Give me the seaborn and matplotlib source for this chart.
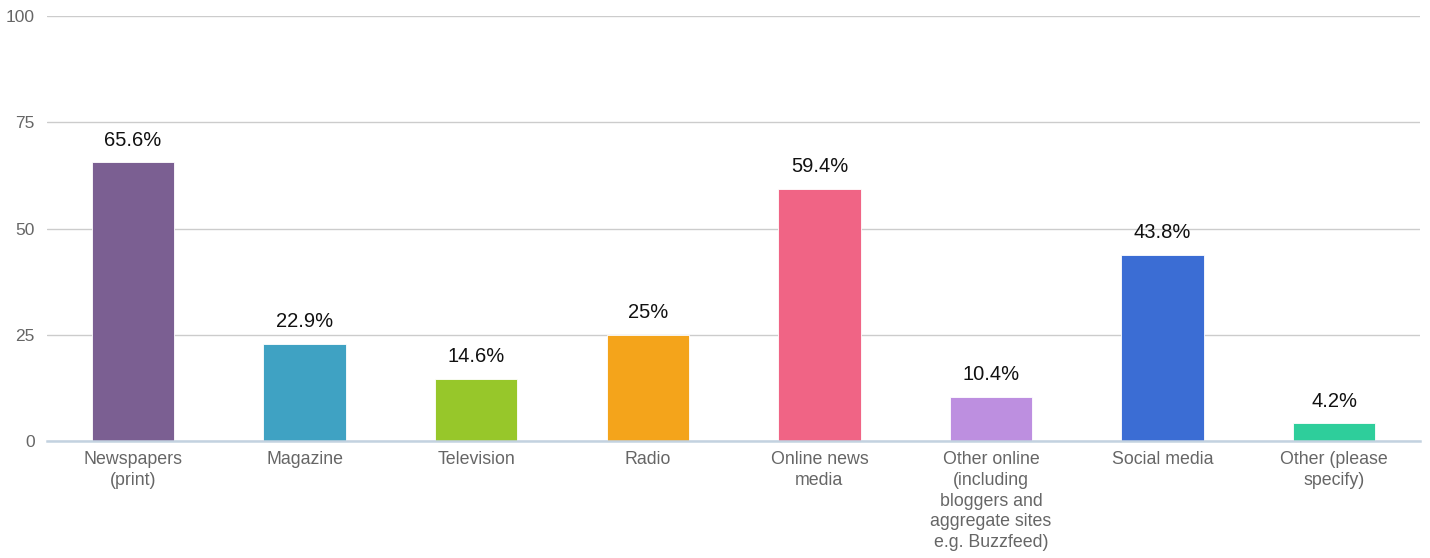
import matplotlib
matplotlib.use("Agg")
import matplotlib.pyplot as plt
import seaborn as sns
import pandas as pd
import numpy as np

# Chart data
categories = [
    "Newspapers\n(print)", "Magazine", "Television", "Radio",
    "Online news\nmedia",
    "Other online\n(including\nbloggers and\naggregate sites\ne.g. Buzzfeed)",
    "Social media", "Other (please\nspecify)",
]
values = [65.6, 22.9, 14.6, 25, 59.4, 10.4, 43.8, 4.2]
value_labels = ["65.6%", "22.9%", "14.6%", "25%", "59.4%", "10.4%", "43.8%", "4.2%"]
bar_colors = ["#7B5F92", "#3FA2C3", "#97C72A", "#F4A41B",
              "#F06485", "#BD8FE0", "#3B6DD4", "#2ECE9B"]
y_ticks = [0, 25, 50, 75, 100]

df = pd.DataFrame({"category": categories, "value": values})

sns.set_style("white")
plt.rcParams["font.family"] = ["Liberation Sans", "DejaVu Sans"]

fig = plt.figure(figsize=(14.3, 5.58), dpi=100)
ax = fig.add_axes([0.033, 0.2097, 0.96, 0.7616])

sns.barplot(data=df, x="category", y="value", hue="category",
            palette=bar_colors, legend=False, width=0.48, saturation=1,
            edgecolor="#ffffff", linewidth=0.6, ax=ax, zorder=3)

ax.set_xlim(-0.5, 7.5)
ax.set_ylim(0, 100)
ax.set_yticks(y_ticks)
ax.yaxis.grid(True, color="#cccccc", linewidth=1, zorder=0)
ax.set_xlabel("")
ax.set_ylabel("")

for s in ["top", "right", "left"]:
    ax.spines[s].set_visible(False)
ax.spines["bottom"].set_color("#c3d2e0")
ax.spines["bottom"].set_linewidth(1.8)
ax.spines["bottom"].set_zorder(4)

ax.tick_params(axis="y", length=0, labelsize=12.5, labelcolor="#666666", pad=9)
ax.tick_params(axis="x", which="major", length=0, labelsize=12.8,
               labelcolor="#666666", pad=7)
ax.set_xticks(np.arange(0.5, 8, 1), minor=True)
ax.tick_params(axis="x", which="minor", length=7, width=1.5, color="#c3d2e0")
for lbl in ax.get_xticklabels():
    lbl.set_linespacing(1.3)

for i, (v, t) in enumerate(zip(values, value_labels)):
    ax.annotate(t, (i, v), xytext=(0, 9), textcoords="offset points",
                ha="center", va="bottom", fontsize=14.5, color="#111111")

fig.savefig("out.png", dpi=100)
